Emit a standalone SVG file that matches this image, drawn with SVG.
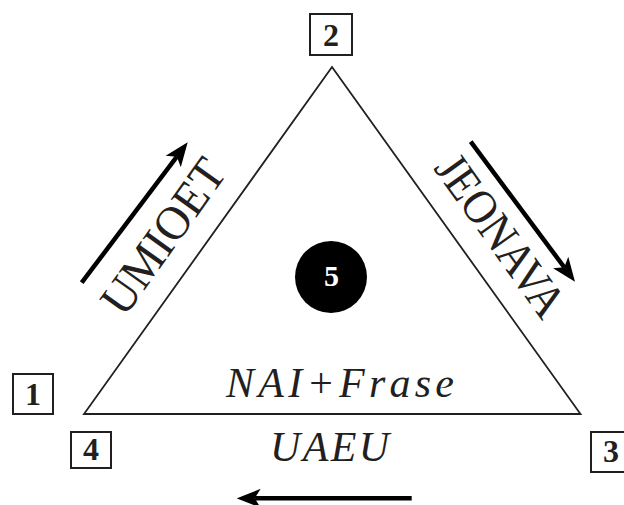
<svg xmlns="http://www.w3.org/2000/svg" width="624" height="505" viewBox="0 0 624 505">
<defs>
<style>
.box{fill:#fff;stroke:#231f20;stroke-width:2}
.num{font-weight:bold;font-size:32px;fill:#231f20;text-anchor:middle}
.lbl{font-size:48px;fill:#231f20}
.ital{font-style:italic;font-size:42px}
.arr{stroke:#000;stroke-width:4.5;fill:none;marker-end:url(#head)}
.tri{fill:none;stroke:#231f20;stroke-width:1.8;stroke-linejoin:miter}
</style>
<marker id="head" markerUnits="userSpaceOnUse" viewBox="0 -10 24 20" markerWidth="24" markerHeight="20" refX="6" refY="0" orient="auto">
<path d="M0,-9.5 L24,0 L0,9.5 L6,0 Z" fill="#000"/>
</marker>
</defs>
<rect width="624" height="505" fill="#fff"/>
<g id="triangle">
<polygon class="tri" points="332,67 580.5,414 84,414"/>
</g>
<g id="connectors">
<line class="arr" x1="81.7" y1="282.7" x2="176.85" y2="156.67"/>
<line class="arr" x1="470.7" y1="141.7" x2="564.25" y2="267.27"/>
<line class="arr" x1="411.7" y1="498.3" x2="254.7" y2="498.3"/>
</g>
<g font-family="Liberation Serif, Times New Roman, serif">
<g id="node1"><rect class="box" x="13" y="374" width="40" height="40"/><text class="num" x="33" y="405">1</text></g>
<g id="node2"><rect class="box" x="310" y="14" width="42" height="41"/><text class="num" x="331" y="46">2</text></g>
<g id="node3"><rect class="box" x="591" y="432" width="40" height="40"/><text class="num" x="611" y="462">3</text></g>
<g id="node4"><rect class="box" x="71" y="432" width="40" height="36"/><text class="num" x="91" y="460">4</text></g>
<g id="node5"><circle cx="331" cy="277" r="36" fill="#000"/><text class="num" x="331.5" y="286" style="fill:#fff;font-size:30px">5</text></g>
<g id="labels">
<text class="lbl" transform="translate(176.1,245.7) rotate(-54.5)" text-anchor="middle" textLength="179" lengthAdjust="spacingAndGlyphs">UMIOET</text>
<text class="lbl" transform="translate(487.8,244.9) rotate(54.4)" text-anchor="middle" textLength="188" lengthAdjust="spacingAndGlyphs">JEONAVA</text>
<text class="lbl ital" x="226" y="396.7" textLength="228" lengthAdjust="spacing">NAI+Frase</text>
<text class="lbl ital" x="270" y="461" textLength="119" lengthAdjust="spacing">UAEU</text>
</g>
</g>
</svg>
